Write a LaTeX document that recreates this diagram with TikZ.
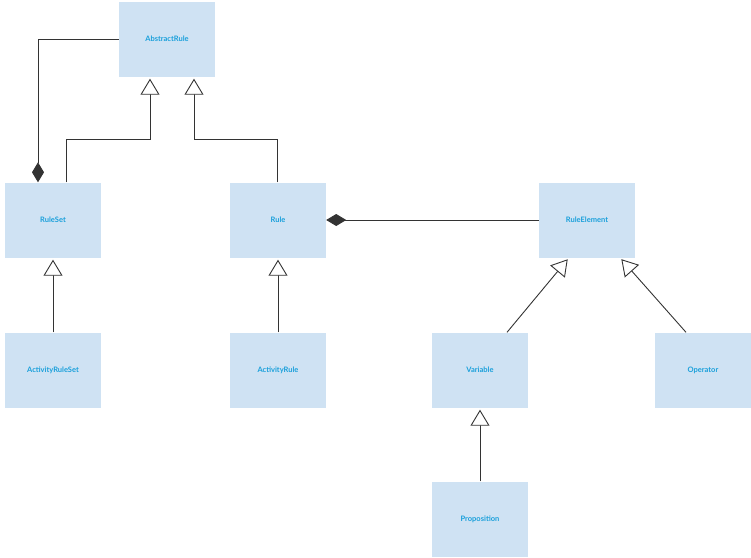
\documentclass[tikz,border=0pt]{standalone}
\usepackage{fontspec}
\setmainfont{Lato}
\usetikzlibrary{arrows.meta}
\definecolor{boxfill}{HTML}{CFE2F3}
\definecolor{boxtext}{HTML}{1AA0DB}
\definecolor{linecol}{HTML}{333333}
\begin{document}
\begin{tikzpicture}[x=1pt, y=-1pt,
  every node/.style={align=center},
  % Classes - light blue boxes
  cls/.style={rectangle, fill=boxfill, minimum width=96pt, minimum height=75pt, inner sep=0pt,
    text=boxtext, font=\fontsize{7.5}{9}\selectfont\bfseries},
  % Inheritance - open triangle
  inherit/.style={-{Triangle[open, fill=white, length=16pt, width=19pt]}, draw=linecol, line width=0.9pt, shorten >=2pt},
  % Composition - filled diamond
  compose/.style={-{Diamond[fill=linecol, length=20pt, width=12pt]}, draw=linecol, line width=0.9pt}
]
\useasboundingbox (0,0) rectangle (751,557);

% === CLASSES ===
\node[cls] (abstract) at (167,39) {AbstractRule};
\node[cls] (ruleset) at (53,220) {RuleSet};
\node[cls] (rule) at (278,220) {Rule};
\node[cls] (element) at (587,220) {RuleElement};
\node[cls] (actset) at (53,370) {ActivityRuleSet};
\node[cls] (actrule) at (278,370) {ActivityRule};
\node[cls] (variable) at (480,370) {Variable};
\node[cls] (operator) at (703,370) {Operator};
\node[cls] (proposition) at (480,519) {Proposition};

% === CONNECTORS ===
\draw[compose] (abstract.west) -| ([xshift=-15pt]ruleset.north);
\draw[inherit] ([xshift=13pt]ruleset.north) |- (150,139) -- ([xshift=-17pt]abstract.south);
\draw[inherit] ([xshift=-1pt]rule.north) |- (194,139) -- ([xshift=27pt]abstract.south);
\draw[compose] (element.west) -- (rule.east);
\draw[inherit] (actset.north) -- (ruleset.south);
\draw[inherit] (actrule.north) -- (rule.south);
\draw[inherit] ([xshift=27pt]variable.north) -- ([xshift=-18pt]element.south);
\draw[inherit] ([xshift=-17pt]operator.north) -- ([xshift=33pt]element.south);
\draw[inherit] (proposition.north) -- (variable.south);

\end{tikzpicture}
\end{document}
